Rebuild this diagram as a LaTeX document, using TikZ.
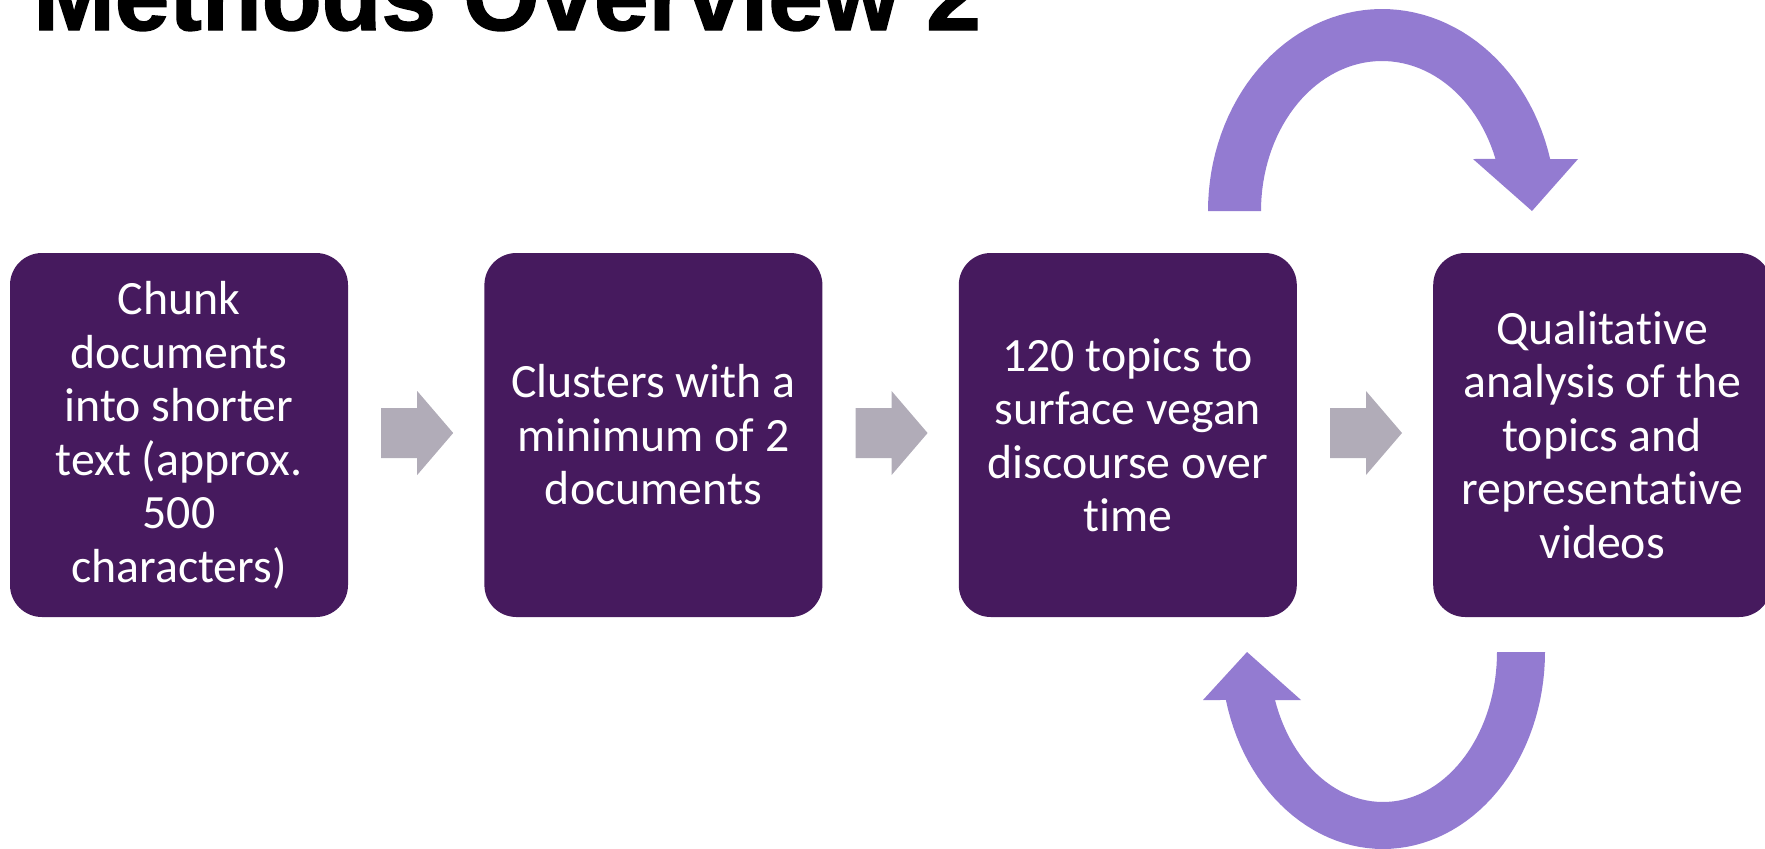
\documentclass[tikz,border=0pt]{standalone}
\usepackage{fontspec}
\setmainfont{Carlito}[Ligatures=NoCommon]
\newfontfamily\titlefont[FakeBold=1.5]{Liberation Sans Bold}
\usetikzlibrary{positioning,calc}
\definecolor{stagepurple}{HTML}{461A5E}
\definecolor{stepgrey}{HTML}{B1ACB8}
\definecolor{looppurple}{HTML}{937BD1}

\begin{document}
\begin{tikzpicture}[
    x=1pt, y=-1pt,
    stage/.style={fill=stagepurple, rounded corners=32pt,
      minimum width=338pt, minimum height=364pt, inner sep=0pt,
      align=center, text=white, font=\fontsize{47.8}{53.5}\selectfont},
    steparrow/.style={fill=stepgrey},
    cyclearrow/.style={fill=looppurple},
  ]

  \useasboundingbox (0,0) rectangle (1765,849);
  \clip (0,0) rectangle (1765,849);

  % --- title (runs off the top edge) ----------------------------------------
  \node[anchor=base west, inner sep=0pt,
        font={\titlefont\fontsize{98}{98}\selectfont}] (title) at (33,30)
       {Methods Overview 2};

  % --- the four stages ------------------------------------------------------
  \node[stage] (s1) at (179,435)
       {Chunk\\documents\\into shorter\\text (approx.\\500\\characters)};
  \node[stage, right=136pt of s1] (s2) {Clusters with a\\minimum of 2\\documents};
  \node[stage, right=136pt of s2] (s3) {120 topics to\\surface vegan\\discourse over\\time};
  \node[stage, right=136pt of s3] (s4)
       {Qualitative\\analysis of the\\topics and\\representative\\videos};

  % --- grey block arrows between stages -------------------------------------
  \foreach \a/\b in {s1/s2, s2/s3, s3/s4} {
    \coordinate (mid) at ($(\a.east)!0.5!(\b.west)$);
    \begin{scope}[shift={(mid)}]
      \fill[steparrow] (-35,-27) -- (1,-27) -- (1,-44) -- (37,-2)
                       -- (1,40) -- (1,23) -- (-35,23) -- cycle;
    \end{scope}
  }

  % --- iteration loop between topics and qualitative analysis ---------------
  \fill[cyclearrow]
    plot[domain=180:345.1, samples=60] ({1382+174*cos(\x)}, {211+202*sin(\x)})
    -- (1578,159) -- (1532,211) -- (1473,159)
    -- plot[domain=339.7:180, samples=60] ({1382+121*cos(\x)}, {211+150*sin(\x)})
    -- cycle;
  \fill[cyclearrow]
    plot[domain=0:165.9, samples=60] ({1383+162*cos(\x)}, {652+197*sin(\x)})
    -- (1203,700) -- (1247,652) -- (1301,700)
    -- plot[domain=161.3:0, samples=60] ({1383+114*cos(\x)}, {652+150*sin(\x)})
    -- cycle;

\end{tikzpicture}
\end{document}
